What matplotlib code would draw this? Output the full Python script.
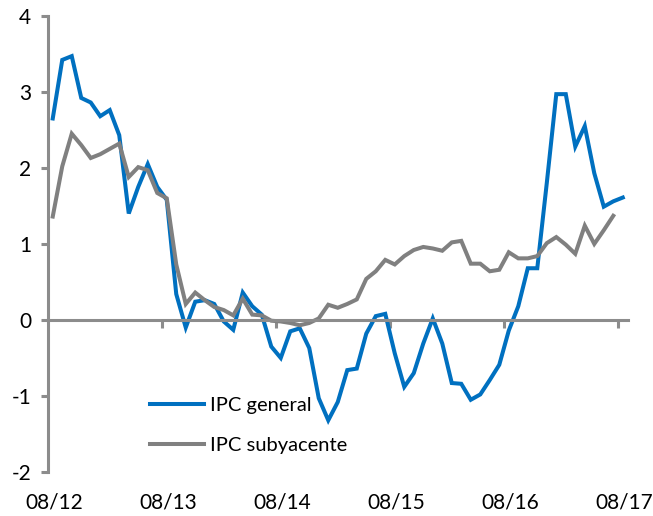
import matplotlib.pyplot as plt

# Monthly data, 08/2012 .. 08/2017
ipc_general = [2.65, 3.42, 3.47, 2.92, 2.86, 2.68, 2.76, 2.43, 1.40, 1.75,
               2.05, 1.75, 1.58, 0.34, -0.10, 0.24, 0.26, 0.21, -0.02, -0.13,
               0.36, 0.18, 0.07, -0.35, -0.50, -0.15, -0.11, -0.37, -1.03, -1.32,
               -1.08, -0.66, -0.64, -0.18, 0.05, 0.08, -0.44, -0.88, -0.70, -0.31,
               0.02, -0.31, -0.83, -0.84, -1.05, -0.98, -0.79, -0.59, -0.14, 0.18,
               0.68, 0.68, 1.80, 2.97, 2.97, 2.28, 2.55, 1.93, 1.49, 1.56, 1.61]
ipc_subyacente = [1.36, 2.02, 2.45, 2.30, 2.13, 2.18, 2.25, 2.32, 1.88, 2.01,
                  1.97, 1.67, 1.60, 0.73, 0.21, 0.36, 0.26, 0.17, 0.13, 0.06,
                  0.28, 0.07, 0.06, -0.01, -0.02, -0.04, -0.07, -0.04, 0.02, 0.20,
                  0.16, 0.21, 0.27, 0.54, 0.64, 0.79, 0.73, 0.84, 0.92, 0.96,
                  0.94, 0.91, 1.02, 1.04, 0.74, 0.74, 0.64, 0.66, 0.89, 0.81,
                  0.81, 0.84, 1.01, 1.09, 0.99, 0.87, 1.24, 1.00, 1.18, 1.37]
x_labels = ['08/12', '08/13', '08/14', '08/15', '08/16', '08/17']

blue = '#0070C0'
grey = '#808080'
axis_grey = '#8C8C8C'
plt.rcParams['font.family'] = ['Lato', 'DejaVu Sans']
plt.rcParams['axes.unicode_minus'] = False

fig = plt.figure(figsize=(6.53, 5.16), dpi=100)
ax = fig.add_axes([0.0735, 0.0853, 0.8875, 0.884])

ax.plot(range(len(ipc_general)), ipc_general, color=blue, lw=2.9,
        label='IPC general', solid_joinstyle='miter')
ax.plot(range(len(ipc_subyacente)), ipc_subyacente, color=grey, lw=2.9,
        label='IPC subyacente', solid_joinstyle='miter')

ax.set_xlim(-0.5, 60.5)
ax.set_ylim(-2, 4)

# y axis
for s in ['top', 'right']:
    ax.spines[s].set_visible(False)
ax.spines['left'].set_color(axis_grey)
ax.spines['left'].set_linewidth(2.2)
ax.spines['bottom'].set_position(('data', 0))
ax.spines['bottom'].set_color(axis_grey)
ax.spines['bottom'].set_linewidth(2.2)
ax.set_yticks(range(-2, 5))
ax.tick_params(axis='y', direction='out', length=5, width=2.2, color=axis_grey,
               labelsize=15, pad=7)

# x axis: tick marks between categories, labels at bottom
ax.set_xticks([11.5, 23.5, 35.5, 47.5, 59.5])
ax.set_xticklabels([])
ax.tick_params(axis='x', direction='out', length=6, width=2.2, color=axis_grey)
for i, lab in enumerate(x_labels):
    ax.text(i * 12 + 0.2, -0.066, lab, transform=ax.get_xaxis_transform(),
            ha='center', va='center', fontsize=15)

ax.legend(loc='center left', bbox_to_anchor=(0.176, 0.102), frameon=False,
          fontsize=14.5, handlelength=2.7, labelspacing=1.15, handletextpad=0.3,
          borderaxespad=0, borderpad=0)

fig.savefig('out.png', dpi=100)
